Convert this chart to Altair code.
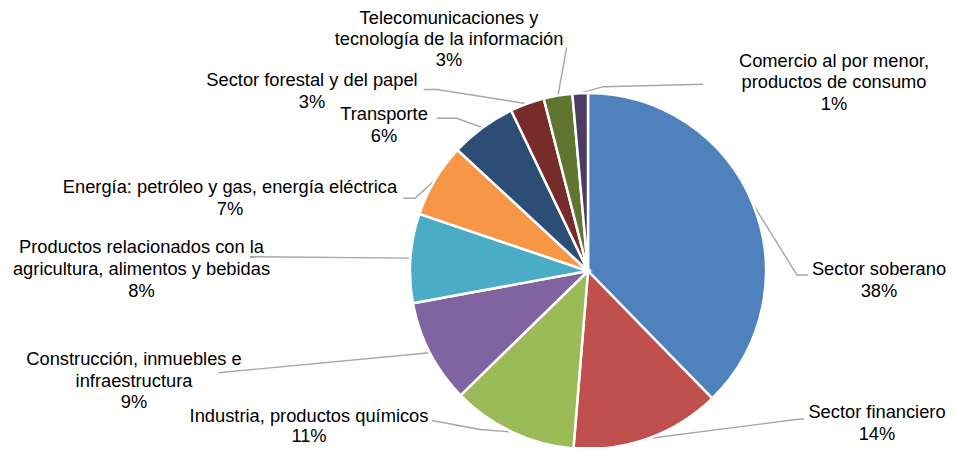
import math
import altair as alt
import pandas as pd

# ---------------- data ----------------
categories = [
    "Sector soberano",
    "Sector financiero",
    "Industria, productos químicos",
    "Construcción, inmuebles e infraestructura",
    "Productos relacionados con la agricultura, alimentos y bebidas",
    "Energía: petróleo y gas, energía eléctrica",
    "Transporte",
    "Sector forestal y del papel",
    "Telecomunicaciones y tecnología de la información",
    "Comercio al por menor, productos de consumo",
]
values = [37.7, 13.6, 11.4, 9.4, 8.1, 6.7, 6.0, 3.1, 2.6, 1.4]
label_lines = [
    ["Sector soberano"],
    ["Sector financiero"],
    ["Industria, productos químicos"],
    ["Construcción, inmuebles e", "infraestructura"],
    ["Productos relacionados con la", "agricultura, alimentos y bebidas"],
    ["Energía: petróleo y gas, energía eléctrica"],
    ["Transporte"],
    ["Sector forestal y del papel"],
    ["Telecomunicaciones y", "tecnología de la información"],
    ["Comercio al por menor,", "productos de consumo"],
]

# ---------------- style / layout ----------------
colors = ["#4F81BD", "#C0504D", "#9BBB59", "#8064A2", "#4BACC6",
          "#F79646", "#2C4D75", "#772C2A", "#5F7530", "#4D3B62"]
OFF = 8                       # page margin
CX, CY, R = 588, 271, 178     # pie centre / radius (page px)
LINE_H = 21.7
FONT = "Liberation Sans"
FONT_SIZE = 18.3
# label anchor: (centre x, first-line y, line spacing) in page px
label_anchor = [
    (879, 270, LINE_H), (877, 413.3, LINE_H), (309, 416.5, 20.2), (134, 360, LINE_H),
    (141.5, 248.3, LINE_H), (230, 188.3, LINE_H), (384, 115, LINE_H), (312, 81, LINE_H),
    (449, 19, 21.2), (834, 61.7, LINE_H),
]
# leader line points after the slice edge point (page px)
leader_pts = [
    [(797, 275), (808, 275)],
    [(792, 420), (804, 418.7)],
    [(480, 429.5), (432, 420.5)],
    [(218.3, 372.7)],
    [(250, 256.7)],
    [(415, 198.3), (403.3, 198.3)],
    [(456.7, 118.3), (436.7, 118.3)],
    [(437, 89.5), (423.5, 89.5)],
    [(566.7, 47.5)],
    [(603.3, 86.7), (703.3, 84.3)],
]

total = sum(values)
pie_df = pd.DataFrame({"cat": categories, "value": values, "idx": range(len(values))})

# leader lines start at the slice mid-angle on the edge
line_rows = []
cum = 0.0
for i, (c, v) in enumerate(zip(categories, values)):
    mid = (cum + v / 2) / total * 2 * math.pi
    cum += v
    pts = [(CX + R * math.sin(mid), CY - R * math.cos(mid))] + leader_pts[i]
    for k, (px, py) in enumerate(pts):
        line_rows.append({"cat": c, "seq": k, "x": px - OFF, "y": py - OFF})
line_df = pd.DataFrame(line_rows)

text_rows = []
for i, (c, v) in enumerate(zip(categories, values)):
    lines = label_lines[i] + [f"{round(v)}%"]
    ax, ay, lh = label_anchor[i]
    for k, t in enumerate(lines):
        text_rows.append({"cat": c, "text": t, "x": ax - OFF, "y": ay + k * lh - OFF})
text_df = pd.DataFrame(text_rows)

leaders = alt.Chart(line_df).mark_line(color="#A6A6A6", strokeWidth=1.4).encode(
    x=alt.X("x:Q", scale=None, axis=None),
    y=alt.Y("y:Q", scale=None, axis=None),
    detail="cat:N",
    order="seq:Q",
)

pie = alt.Chart(pie_df).mark_arc(radius=R, stroke="white", strokeWidth=2.5).encode(
    theta=alt.Theta("value:Q", stack=True),
    color=alt.Color("cat:N", scale=alt.Scale(domain=categories, range=colors), legend=None),
    order=alt.Order("idx:Q"),
    x=alt.value(CX - OFF),
    y=alt.value(CY - OFF),
)

labels = alt.Chart(text_df).mark_text(
    align="center", baseline="middle", font=FONT, fontSize=FONT_SIZE, color="#000000"
).encode(
    x=alt.X("x:Q", scale=None, axis=None),
    y=alt.Y("y:Q", scale=None, axis=None),
    text="text:N",
)

chart = alt.layer(leaders, pie, labels).properties(
    width=940, height=439, autosize=alt.AutoSizeParams(type="none"), padding=0,
    background="white",
).configure_view(stroke=None)

chart.save("out.html", embed_options={"renderer": "svg", "actions": False})
